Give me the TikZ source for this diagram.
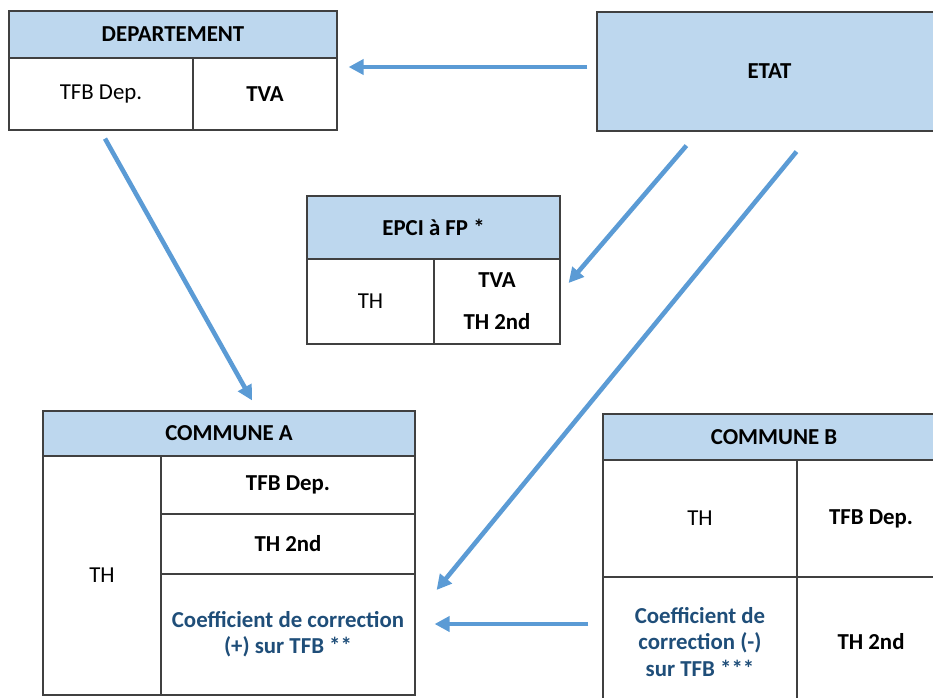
\documentclass[tikz,border=0pt]{standalone}
\usepackage{fontspec}
\setmainfont{Carlito}
\usetikzlibrary{arrows.meta}

\definecolor{headblue}{RGB}{189,215,238}
\definecolor{linegray}{RGB}{64,64,64}
\definecolor{flowblue}{RGB}{91,155,213}
\definecolor{coefblue}{RGB}{31,78,121}

\begin{document}
\begin{tikzpicture}[x=0.02cm,y=-0.02cm,
	cell/.style={draw=linegray,line width=0.7pt,inner sep=0pt,align=center,
		font=\fontsize{13}{15}\selectfont},
	head/.style={cell,fill=headblue,font=\fontsize{13}{15}\selectfont\bfseries},
	val/.style={cell,font=\fontsize{13}{15}\selectfont\bfseries},
	coef/.style={val,text=coefblue},
	flow/.style={draw=flowblue,line width=2.6pt,-{Triangle[length=8.5pt,width=8.5pt]}}]
	\useasboundingbox (0,0) rectangle (933,697);
	\clip (0,0) rectangle (933,697);

	\node[head,minimum width=6.56cm,minimum height=0.94cm] (depHead) at (173,34.5) {DEPARTEMENT};
	\node[cell,minimum width=3.68cm,minimum height=1.44cm] (depTFB) at (101,94) {TFB Dep.};
	\node[val,minimum width=2.88cm,minimum height=1.44cm] (depTVA) at (265,94) {TVA};

	\node[head,minimum width=6.9cm,minimum height=2.38cm] (etat) at (769.5,71.5) {ETAT};

	\node[head,minimum width=5.06cm,minimum height=1.26cm] (epciHead) at (433.5,227.5) {EPCI à FP *};
	\node[cell,minimum width=2.54cm,minimum height=1.70cm] (epciTH) at (370.5,301.5) {TH};
	\node[val,minimum width=2.52cm,minimum height=1.70cm] (epciTVA) at (497,301.5) {TVA\\[9pt]TH 2nd};

	\node[head,minimum width=7.44cm,minimum height=0.90cm] (comAHead) at (229,433.5) {COMMUNE A};
	\node[cell,minimum width=2.36cm,minimum height=4.78cm] (comATH) at (102,575.5) {TH};
	\node[val,minimum width=5.08cm,minimum height=1.16cm] (comATFB) at (288,485) {TFB Dep.};
	\node[val,minimum width=5.08cm,minimum height=1.20cm] (comATH2) at (288,544) {TH 2nd};
	\node[coef,minimum width=5.08cm,minimum height=2.42cm] (comACoef) at (288,634.5) {Coefficient de correction\\(+) sur TFB **};

	\node[head,minimum width=6.84cm,minimum height=0.92cm] (comBHead) at (774,437) {COMMUNE B};
	\node[cell,minimum width=3.88cm,minimum height=2.34cm] (comBTH) at (700,518.5) {TH};
	\node[val,minimum width=2.96cm,minimum height=2.34cm] (comBTFB) at (871,518.5) {TFB Dep.};
	\node[coef,minimum width=3.88cm,minimum height=2.60cm] (comBCoef) at (700,642) {Coefficient de\\correction (-)\\sur TFB ***};
	\node[val,minimum width=2.96cm,minimum height=2.60cm] (comBTH2) at (871,642) {TH 2nd};

	\draw[flow] ([shift={(-9,-4.5)}]etat.west) -- ([shift={(11,-27)}]depTVA.east);
	\draw[flow] ([shift={(4,8)}]depTFB.south) -- ([shift={(23,-10)}]comAHead.north);
	\draw[flow] ([shift={(90,14)}]etat.south west) -- ([shift={(8,-18.5)}]epciTVA.east);
	\draw[flow] ([shift={(27,20)}]etat.south) -- ([shift={(21,-44.5)}]comACoef.east);
	\draw[flow] ([shift={(-14,-18)}]comBCoef.west) -- ([shift={(19,-10.5)}]comACoef.east);
\end{tikzpicture}
\end{document}
